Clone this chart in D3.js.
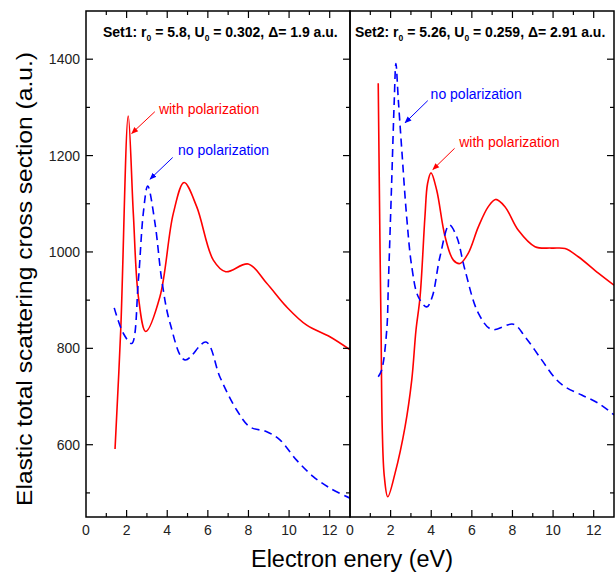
<!DOCTYPE html>
<html>
<head>
<meta charset="utf-8">
<script src="https://cdn.jsdelivr.net/npm/d3@7"></script>
<style>
  body { margin: 0; background: #fff; }
  svg { display: block; font-family: Arial, "Liberation Sans", sans-serif; }
</style>
</head>
<body>
<svg width="616" height="573"></svg>
<script>
// ---- data ----
// Set1, with polarization (red, solid)
const set1WithE  = [1.43, 1.71, 2.08, 2.33, 2.58, 2.94, 3.64, 4.30, 4.83, 5.45, 6.27, 6.88, 7.99, 8.90, 9.88, 10.87, 12.01, 13.0];
const set1WithCS = [591, 838, 1282, 1080, 907, 835, 907, 1080, 1144, 1094, 983, 959, 975, 935, 886, 848, 824, 797];
// Set1, no polarization (blue, dashed)
const set1NoE  = [1.39, 1.84, 2.25, 2.58, 2.82, 3.04, 3.40, 3.73, 4.14, 4.87, 5.91, 6.60, 7.42, 8.07, 8.90, 9.55, 10.37, 11.19, 12.01, 13.0];
const set1NoCS = [884, 831, 810, 942, 1080, 1137, 1059, 942, 852, 776, 813, 740, 672, 637, 627, 610, 568, 534, 510, 489];
// Set2, with polarization
const set2WithE  = [1.39, 1.48, 1.53, 1.59, 1.69, 1.86, 2.22, 2.71, 3.04, 3.25, 3.45, 3.69, 3.82, 3.99, 4.27, 4.68, 5.09, 5.42, 5.82, 6.32, 6.81, 7.17, 7.63, 8.29, 9.11, 9.93, 10.59, 11.24, 12.23, 13.0];
const set2WithCS = [1350, 1004, 838, 630, 534, 492, 541, 637, 734, 838, 907, 1073, 1142, 1164, 1128, 1032, 983, 976, 997, 1052, 1094, 1109, 1094, 1045, 1011, 1008, 1007, 990, 956, 931];
// Set2, no polarization
const set2NoE  = [1.39, 1.56, 1.81, 1.89, 2.05, 2.18, 2.26, 2.38, 2.55, 2.79, 3.04, 3.36, 3.78, 4.05, 4.43, 4.89, 5.25, 5.66, 6.32, 6.98, 8.05, 8.62, 9.44, 10.10, 10.59, 11.41, 12.23, 13.0];
const set2NoCS = [741, 755, 838, 935, 1142, 1315, 1391, 1315, 1212, 1073, 970, 907, 886, 907, 990, 1056, 1032, 963, 873, 839, 850, 824, 776, 738, 720, 703, 686, 662];

const xTicks = [0, 2, 4, 6, 8, 10, 12];
const yTicks = [600, 800, 1000, 1200, 1400];

const panelTitles = [
  ["Set1: r", "0", " = 5.8, U", "0", " = 0.302, \u0394= 1.9 a.u."],
  ["Set2: r", "0", " = 5.26, U", "0", " = 0.259, \u0394= 2.91 a.u."]
];
// annotation text/arrows in data coords: [label, textE, textCS, arrowFromE, arrowFromCS, arrowToE, arrowToCS]
const notes1 = [
  ["with polarization", 3.59, 1286, 3.39, 1291, 2.25, 1246, "red"],
  ["no polarization",   4.53, 1201, 4.27, 1196, 3.15, 1151, "blue"]
];
const notes2 = [
  ["no polarization",   3.97, 1317, 3.83, 1314, 2.71, 1268, "blue"],
  ["with polarization", 5.38, 1218, 5.15, 1215, 4.08, 1171, "red"]
];

// ---- layout ----
const svg = d3.select("svg");
const plotTop = 11, plotBottom = 517, panelW = 264, left0 = 86;
const RED = "#ff0000", BLUE = "#0000ff";

const y = d3.scaleLinear().domain([450, 1500]).range([plotBottom, plotTop]);

const defs = svg.append("defs");
[["red", RED], ["blue", BLUE]].forEach(([id, c]) => {
  defs.append("marker")
      .attr("id", "arr-" + id)
      .attr("viewBox", "0 0 10 10")
      .attr("refX", 9).attr("refY", 5)
      .attr("markerWidth", 7).attr("markerHeight", 7)
      .attr("markerUnits", "userSpaceOnUse")
      .attr("orient", "auto")
    .append("path")
      .attr("d", "M0,1 L10,5 L0,9 Z")
      .attr("fill", c);
});

const panels = [
  { x0: left0, title: panelTitles[0], lines: [[set1WithE, set1WithCS, RED, null], [set1NoE, set1NoCS, BLUE, "8,5"]], notes: notes1 },
  { x0: left0 + panelW, title: panelTitles[1], lines: [[set2WithE, set2WithCS, RED, null], [set2NoE, set2NoCS, BLUE, "8,5"]], notes: notes2 }
];

panels.forEach((p, i) => {
  const x = d3.scaleLinear().domain([0, 13]).range([p.x0, p.x0 + panelW]);
  const g = svg.append("g");

  defs.append("clipPath").attr("id", "clip" + i)
    .append("rect").attr("x", p.x0).attr("y", plotTop).attr("width", panelW).attr("height", plotBottom - plotTop);

  const line = d3.line()
      .x(d => x(d[0]))
      .y(d => y(d[1]))
      .curve(d3.curveCatmullRom.alpha(0.5));

  p.lines.forEach(([es, cs, color, dash]) => {
    g.append("path")
      .datum(es.map((e, k) => [e, cs[k]]))
      .attr("clip-path", `url(#clip${i})`)
      .attr("fill", "none")
      .attr("stroke", color)
      .attr("stroke-width", 1.6)
      .attr("stroke-dasharray", dash)
      .attr("d", line);
  });

  // inward ticks: bottom/top (major every 2, minor every 1)
  d3.range(1, 13).forEach(v => {
    const len = v % 2 === 0 ? 7 : 4;
    g.append("line").attr("x1", x(v)).attr("x2", x(v)).attr("y1", plotBottom).attr("y2", plotBottom - len).attr("stroke", "#000").attr("stroke-width", 1.2);
    g.append("line").attr("x1", x(v)).attr("x2", x(v)).attr("y1", plotTop).attr("y2", plotTop + len).attr("stroke", "#000").attr("stroke-width", 1.2);
  });
  // y ticks
  d3.range(500, 1500, 100).forEach(v => {
    const len = v % 200 === 0 ? 7 : 4;
    if (i === 0) {
      g.append("line").attr("x1", p.x0).attr("x2", p.x0 + len).attr("y1", y(v)).attr("y2", y(v)).attr("stroke", "#000").attr("stroke-width", 1.2);
    }
    g.append("line").attr("x1", p.x0 + panelW).attr("x2", p.x0 + panelW - len).attr("y1", y(v)).attr("y2", y(v)).attr("stroke", "#000").attr("stroke-width", 1.2);
  });

  // frame
  g.append("rect")
    .attr("x", p.x0).attr("y", plotTop)
    .attr("width", panelW).attr("height", plotBottom - plotTop)
    .attr("fill", "none").attr("stroke", "#000").attr("stroke-width", 1.5);

  // x tick labels
  g.selectAll(".xt").data(xTicks).join("text")
    .attr("x", d => x(d)).attr("y", plotBottom + 18)
    .attr("text-anchor", "middle")
    .attr("font-size", 14).attr("fill", "#222")
    .text(d => d);

  // title
  const t = g.append("text")
    .attr("x", p.x0 + (i === 0 ? 17 : 5)).attr("y", 37)
    .attr("font-size", 14).attr("font-weight", "bold");
  p.title.forEach((s, k) => {
    const sub = k % 2 === 1;
    t.append("tspan")
      .attr("dy", sub ? 4 : (k > 0 ? -4 : 0))
      .attr("font-size", sub ? 8.5 : 14)
      .text(s);
  });

  // annotations
  p.notes.forEach(([label, te, tc, fe, fc, ae, ac, col]) => {
    g.append("text")
      .attr("x", x(te)).attr("y", y(tc))
      .attr("font-size", 14).attr("fill", col === "red" ? RED : BLUE)
      .text(label);
    g.append("line")
      .attr("x1", x(fe)).attr("y1", y(fc))
      .attr("x2", x(ae)).attr("y2", y(ac))
      .attr("stroke", col === "red" ? RED : BLUE)
      .attr("stroke-width", 1)
      .attr("marker-end", `url(#arr-${col})`);
  });
});

// y tick labels (left panel only)
svg.selectAll(".yt").data(yTicks).join("text")
  .attr("x", left0 - 6).attr("y", d => y(d) + 5)
  .attr("text-anchor", "end")
  .attr("font-size", 14).attr("fill", "#222")
  .text(d => d);

// axis titles
svg.append("text")
  .attr("x", 352).attr("y", 567)
  .attr("text-anchor", "middle")
  .attr("font-size", 23)
  .attr("textLength", 202)
  .attr("lengthAdjust", "spacingAndGlyphs")
  .text("Electron enery (eV)");

svg.append("text")
  .attr("transform", "translate(32,279) rotate(-90)")
  .attr("text-anchor", "middle")
  .attr("font-size", 22)
  .attr("textLength", 454)
  .attr("lengthAdjust", "spacingAndGlyphs")
  .text("Elastic total scattering cross section (a.u.)");
</script>
</body>
</html>
